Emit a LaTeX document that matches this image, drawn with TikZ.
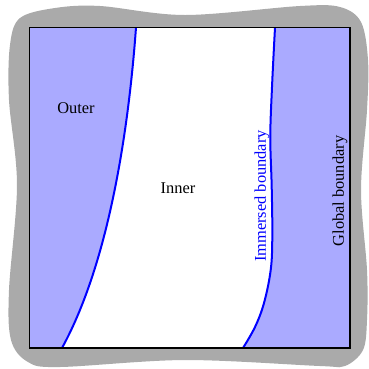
\documentclass[tikz,border=0pt]{standalone}
\usepackage{fontspec}
\setmainfont{Liberation Serif}
\newfontfamily\lblfont{Liberation Serif}
\definecolor{bgray}{HTML}{AAAAAA}
\definecolor{lblue}{HTML}{AAAAFF}
\begin{document}
\begin{tikzpicture}[x=1pt,y=-1pt,
  lbl/.style={font=\lblfont\fontsize{16.4}{18}\selectfont, inner sep=0pt},
  ibound/.style={draw=blue, line width=2pt},
  gbound/.style={draw=black, line width=1.9pt}]
\useasboundingbox (0,0) rectangle (369,368);
% gray wavy frame
\fill[bgray] plot[smooth cycle, tension=0.55] coordinates {
  (20,18) (55,8) (100,6) (185,15) (300,6) (340,7) (361,22)
  (368,60) (367,110) (361,190) (367,270) (367,320) (363,350) (345,366)
  (320,366) (185,360) (60,367) (28,362) (11,340)
  (9,290) (17,185) (9,100) (10,45)};
% blue square
\coordinate (tl) at (29.5,27.5);
\coordinate (br) at (350,348);
\fill[lblue] (tl) rectangle (br);
% inner white region
\fill[white] (136,27.5) .. controls (130,110) and (113,255) .. (62,348)
  -- (243,348)
  -- plot[smooth, tension=0.6] coordinates {(243,348) (255,327) (264,303) (270.7,270) (272.3,237) (271.7,187) (270.3,137) (272,87) (275,27.5)}
  -- cycle;
% immersed boundary curves
\draw[ibound] (136,27.5) .. controls (130,110) and (113,255) .. (62,348);
\draw[ibound] plot[smooth, tension=0.6] coordinates {(243,348) (255,327) (264,303) (270.7,270) (272.3,237) (271.7,187) (270.3,137) (272,87) (275,27.5)};
% global boundary
\draw[gbound] (tl) rectangle (br);
% labels
\node[lbl] (outer) at (76,108) {Outer};
\node[lbl] (inner) at (178,188) {Inner};
\node[lbl, text=blue, rotate=90] (imm) at (262,196) {Immersed boundary};
\node[lbl, rotate=90] (glob) at (340,191) {Global boundary};
\end{tikzpicture}
\end{document}
